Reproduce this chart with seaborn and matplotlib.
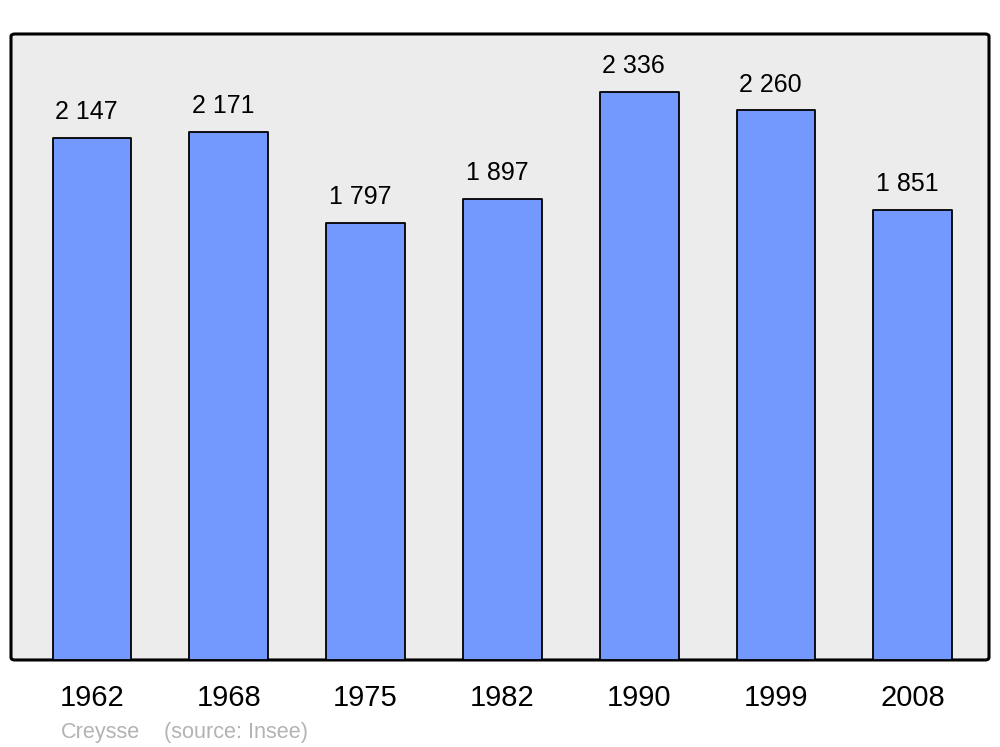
import matplotlib
matplotlib.use("Agg")
import matplotlib.pyplot as plt
from matplotlib.patches import FancyBboxPatch
import seaborn as sns
import pandas as pd

sns.set_theme(style="white")
plt.rcParams.update({
    'font.family': ['Liberation Sans', 'DejaVu Sans'],
})

# Population data (Creysse, source: Insee)
years = ["1962", "1968", "1975", "1982", "1990", "1999", "2008"]
population = [2147, 2171, 1797, 1897, 2336, 2260, 1851]
labels = ["2 147", "2 171", "1 797", "1 897", "2 336", "2 260", "1 851"]

BAR_COLOR = '#7399ff'
BG_COLOR = '#ececec'

df = pd.DataFrame({'year': years, 'population': population})

fig = plt.figure(figsize=(10, 7.47), dpi=100)
ax = fig.add_axes([0.011, 0.1165, 0.978, 0.838])
ax.set_facecolor('none')

# rounded frame behind the bars
frame = FancyBboxPatch((0, 0), 1, 1, boxstyle="round,pad=0,rounding_size=0.004",
                       transform=ax.transAxes, facecolor=BG_COLOR, edgecolor='black',
                       linewidth=2.2, clip_on=False, zorder=0)
ax.add_patch(frame)

sns.barplot(data=df, x='year', y='population', ax=ax, color=BAR_COLOR,
            saturation=1, width=0.575, edgecolor='black', linewidth=1.3, zorder=2)

for bar in ax.patches:
    if bar is not frame:
        bar.set_joinstyle('round')

for i, (val, lab) in enumerate(zip(population, labels)):
    ax.annotate(lab, (i, val), xytext=(-4, 13.5), textcoords='offset points',
                ha='center', va='baseline', fontsize=18, color='black')

ax.set_xlim(-0.592, 6.557)
ax.set_ylim(0, 2574)
ax.set_yticks([])
ax.set_xlabel("")
ax.set_ylabel("")
ax.tick_params(axis='x', length=0, pad=17, labelsize=21, colors='black')

for spine in ax.spines.values():
    spine.set_visible(False)

fig.text(0.061, 1 - 738 / 747, "Creysse", fontsize=15.6, color='#b3b3b3', va='baseline')
fig.text(0.164, 1 - 738 / 747, "(source: Insee)", fontsize=15.6, color='#b3b3b3', va='baseline')

fig.savefig("out.png", dpi=100)
plt.close(fig)
